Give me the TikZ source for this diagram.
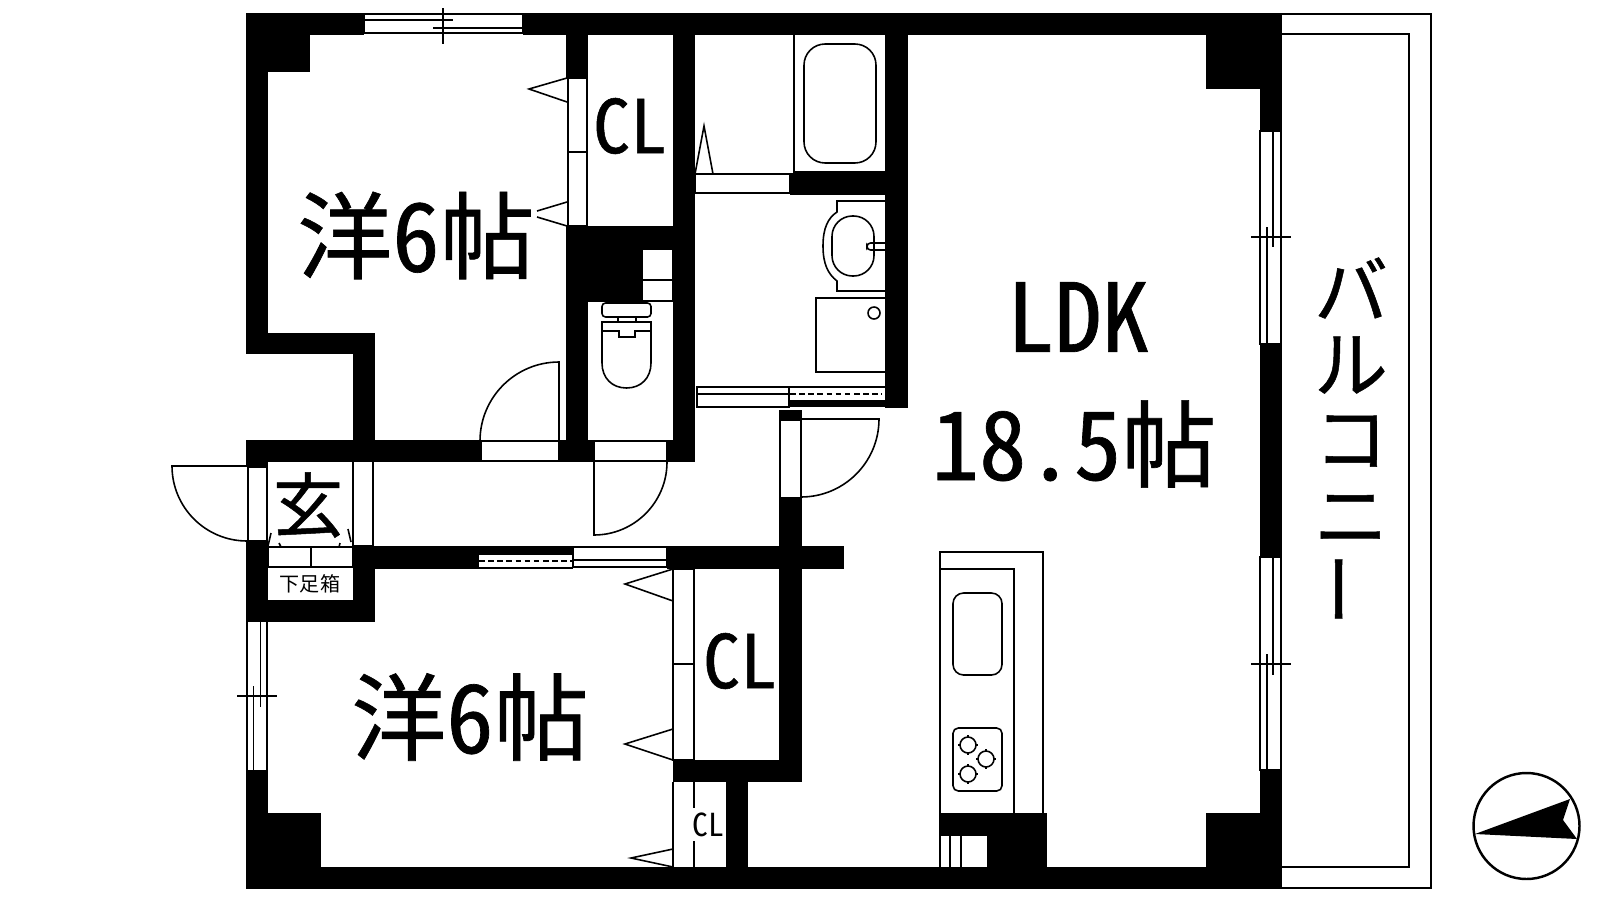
\documentclass[tikz,border=0pt]{standalone}
\usepackage{fontspec}
\newfontfamily\planfont[RawFeature=+hwid,FakeBold=0.7]{Noto Sans CJK JP}
\newfontfamily\smallfont[RawFeature=+hwid]{Noto Sans CJK JP}
\tikzset{
	wall/.style={fill=black},
	planline/.style={line width=0.45pt},
	windowdash/.style={planline,dash pattern=on 1.6pt off 1pt},
	roomlabel/.style={inner sep=0,font=\planfont\fontsize{27}{30}\selectfont},
	cllabel/.style={inner sep=0,font=\planfont\fontsize{21}{24}\selectfont},
	balconylabel/.style={inner sep=0,font=\planfont\fontsize{21}{24}\selectfont}
}
\begin{document}
\begin{tikzpicture}[x=0.01cm,y=-0.01cm]
	\useasboundingbox (0,0) rectangle (1600,900);

	\fill[wall] (246,13) rectangle (364,35);
	\fill[wall] (523,13) rectangle (1282,35);
	\fill[wall] (246,13) rectangle (310,72);
	\fill[wall] (246,13) rectangle (268,354);
	\fill[wall] (246,333) rectangle (375,354);
	\fill[wall] (353,333) rectangle (375,462);
	\fill[wall] (246,440) rectangle (481,462);
	\fill[wall] (246,440) rectangle (268,467);
	\fill[wall] (246,541) rectangle (268,622);
	\fill[wall] (246,600) rectangle (375,622);
	\fill[wall] (353,546) rectangle (375,622);
	\fill[wall] (353,546) rectangle (479,569);
	\fill[wall] (479,546) rectangle (573,555);
	\fill[wall] (667,546) rectangle (844,569);
	\fill[wall] (779,498) rectangle (802,782);
	\fill[wall] (673,760) rectangle (802,782);
	\fill[wall] (726,782) rectangle (748,867);
	\fill[wall] (779,410) rectangle (802,420);

	\fill[wall] (566,35) rectangle (588,78);
	\fill[wall] (566,226) rectangle (673,249);
	\fill[wall] (566,226) rectangle (642,302);
	\fill[wall] (566,226) rectangle (588,462);
	\fill[wall] (559,440) rectangle (594,462);
	\fill[wall] (667,440) rectangle (695,462);
	\fill[wall] (673,13) rectangle (695,462);

	\fill[wall] (790,173) rectangle (885,195);
	\fill[wall] (885,13) rectangle (908,408);
	\fill[wall] (790,400) rectangle (885,407);

	\fill[wall] (246,770) rectangle (268,889);
	\fill[wall] (246,813) rectangle (321,889);
	\fill[wall] (246,867) rectangle (1282,889);
	\fill[wall] (1206,813) rectangle (1282,889);
	\fill[wall] (1260,770) rectangle (1282,889);
	\fill[wall] (1206,13) rectangle (1282,89);
	\fill[wall] (1260,13) rectangle (1282,131);
	\fill[wall] (1260,344) rectangle (1282,557);
	\fill[wall] (939,813) rectangle (1047,836);
	\fill[wall] (987,813) rectangle (1047,867);

	% top window
	\draw[planline] (364,14) rectangle (523,33);
	\draw[planline] (364,20) -- (453,20);
	\draw[planline] (433,28) -- (523,28);
	\draw[planline] (443,8) -- (443,44);

	% left window
	\draw[planline] (247,622) -- (247,770);
	\draw[planline] (267,622) -- (267,770);
	\draw[planline] (260.5,622) -- (260.5,707);
	\draw[planline] (253.5,686) -- (253.5,770);
	\draw[planline] (237,696) -- (277,696);

	% right windows
	\draw[planline] (1260,131) rectangle (1281,344);
	\draw[planline] (1273,131) -- (1273,247);
	\draw[planline] (1267,227) -- (1267,344);
	\draw[planline] (1251,237) -- (1291,237);

	\draw[planline] (1260,557) rectangle (1281,770);
	\draw[planline] (1273,557) -- (1273,675);
	\draw[planline] (1267,654) -- (1267,770);
	\draw[planline] (1251,664) -- (1291,664);

	% balcony
	\draw[planline] (1270,14) -- (1431,14) -- (1431,888) -- (1270,888);
	\draw[planline] (1282,34) -- (1409,34) -- (1409,867) -- (1282,867);

	% compass
	\draw[line width=0.7pt] (1526.5,826) circle (53);
	\fill (1475,834) -- (1570,799) -- (1563,820) -- (1577,839) -- cycle;

	% upper closet
	\draw[planline] (568,78) rectangle (587,226);
	\draw[planline] (568,152) -- (587,152);
	\draw[planline] (567,78) -- (529,89) -- (567,102);
	\draw[planline] (567,202) -- (537,211);
	\draw[planline] (537,217) -- (567,226);

	% lower closets
	\draw[planline] (673,569) rectangle (694,760);
	\draw[planline] (673,664) -- (694,664);
	\draw[planline] (673,569) -- (625,584) -- (673,601);
	\draw[planline] (673,729) -- (625,744) -- (673,760);
	\draw[planline] (673,782) -- (673,867);
	\draw[planline] (694,782) -- (694,808);
	\draw[planline] (694,841) -- (694,867);
	\draw[planline] (673,849) -- (631,858) -- (673,867);

	% doors
	\draw[planline] (481,441) rectangle (559,461);
	\draw[planline] (559,441) -- (559,362) arc[start angle=-90,end angle=-180,radius=79];
	\draw[planline] (594,441) rectangle (667,461);
	\draw[planline] (594,462) -- (594,535) arc[start angle=90,end angle=0,radius=73];
	\draw[planline] (780,420) rectangle (801,498);
	\draw[planline] (801,419) -- (879,419) arc[start angle=0,end angle=90,radius=78];
	\draw[planline] (248,467) rectangle (267,541);
	\draw[planline] (247,466) -- (172,466) arc[start angle=180,end angle=90,radius=75];

	% entrance
	\draw[planline] (353,462) -- (353,546) -- (373,546) -- (373,462);
	\draw[planline] (268,547) rectangle (353,567);
	\draw[planline] (311,547) -- (311,567);
	\draw[planline] (268,546) -- (271,533);
	\draw[planline] (279,543) -- (281,547);
	\draw[planline] (348,529) -- (351,542);
	\draw[planline] (340,543) -- (339,547);

	% hall windows
	\draw[planline] (479,568) -- (573,568);
	\draw[windowdash] (479,561) -- (573,561);
	\draw[planline] (573,547) rectangle (667,567);
	\draw[planline] (573,560) -- (667,560);
	\draw[planline] (697,387) rectangle (789,407);
	\draw[planline] (697,394) -- (789,394);
	\draw[planline] (789,387) -- (885,387);
	\draw[windowdash] (790,394) -- (882,394);

	% bathroom
	\draw[planline] (794,35) -- (794,172) -- (885,172);
	\draw[planline,rounded corners=6pt] (804,44) rectangle (876,163);
	\draw[planline] (695,174) rectangle (790,193);
	\draw[planline] (695,174) -- (704,126) -- (713,174);

	% wash basin
	\draw[planline] (885,201) -- (837,201) -- (837,212) .. controls (828,218) and (823,228) .. (823,246) .. controls (823,264) and (828,274) .. (837,281) -- (837,291) -- (885,291);
	\draw[planline,rounded corners=5.8pt] (832,216) rectangle (874,276);
	\draw[planline,rounded corners=1pt] (885,243) -- (867,243) -- (867,250) -- (885,250);
	\draw[planline] (885,298) -- (816,298) -- (816,372) -- (885,372);
	\draw[planline] (874,313) circle (6);

	% toilet
	\draw[planline] (642,249) rectangle (673,301);
	\draw[planline] (642,280) -- (673,280);
	\draw[planline,rounded corners=1pt] (602,303) rectangle (651,317);
	\draw[planline] (618,317) -- (618,322);
	\draw[planline] (636,317) -- (636,322);
	\draw[planline] (602,363) -- (602,322) -- (651,322) -- (651,363);
	\draw[planline] (602,363) .. controls (602,378) and (612,388) .. (626.5,388) .. controls (641,388) and (651,378) .. (651,363);
	\draw[planline] (602,331) -- (619,331) -- (619,337) -- (635,337) -- (635,331) -- (651,331);

	% kitchen
	\draw[planline] (940,813) -- (940,552) -- (1043,552) -- (1043,813);
	\draw[planline] (940,569) -- (1014,569) -- (1014,813);
	\draw[planline,rounded corners=3pt] (953,593) rectangle (1002,675);
	\draw[planline,rounded corners=1.5pt] (953,728) rectangle (1002,791);
	\foreach \bx/\by in {968/745,986/759,968/774} {
		\draw[planline] (\bx-10,\by) -- (\bx+10,\by);
		\draw[planline] (\bx,\by-10) -- (\bx,\by+10);
		\draw[planline,fill=white] (\bx,\by) circle (8);
	}
	\draw[planline] (940,836) -- (940,867);
	\draw[planline] (950,836) -- (950,867);
	\draw[planline] (961,836) -- (961,867);

	\node[roomlabel] (room1) at (416,235.5) {洋6帖};
	\node[roomlabel] (room2) at (470,717) {洋6帖};
	\node[roomlabel] (ldk) at (1078,317) {LDK};
	\node[roomlabel] (ldksize) at (1074,444) {18.5帖};
	\node[cllabel] (cl1) at (630,126) {CL};
	\node[cllabel] (cl2) at (740,661) {CL};
	\node[inner sep=0,font=\smallfont\fontsize{9}{10}\selectfont] (cl3) at (708,825) {CL};
	\node[inner sep=0,font=\planfont\fontsize{20}{22}\selectfont] (genkan) at (308,505) {玄};
	\node[inner sep=0,font=\smallfont\fontsize{5.7}{6}\selectfont] (shoebox) at (310,584) {下足箱};
	\node[balconylabel] (ba) at (1351,288) {バ};
	\node[balconylabel] (ru) at (1351,365) {ル};
	\node[balconylabel] (ko) at (1351,441) {コ};
	\node[balconylabel] (ni) at (1351,519) {ニ};
	\node[balconylabel,rotate=90] (bar) at (1351,589) {ー};
\end{tikzpicture}
\end{document}
